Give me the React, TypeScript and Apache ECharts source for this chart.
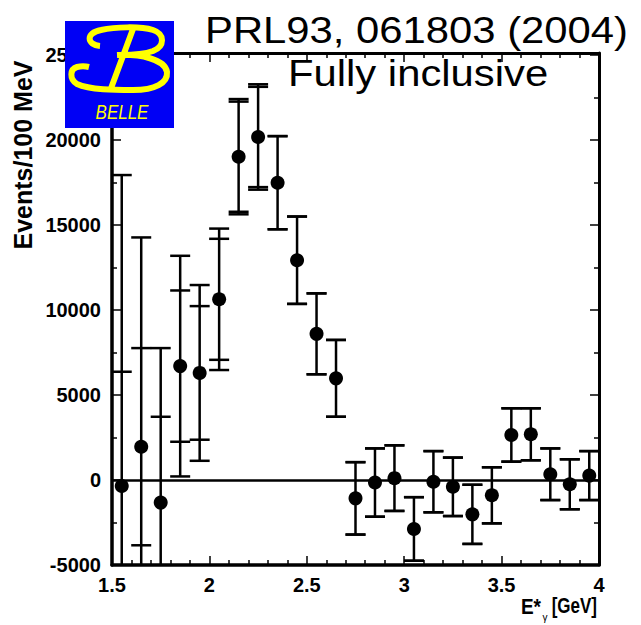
import React, { useEffect, useRef } from "react";
import * as echarts from "echarts";

// ---- data ----
const energies = [1.55, 1.65, 1.75, 1.85, 1.95, 2.05, 2.15, 2.25, 2.35, 2.45, 2.55, 2.65, 2.75, 2.85, 2.95, 3.05, 3.15, 3.25, 3.35, 3.45, 3.55, 3.65, 3.75, 3.85, 3.95];
const events = [-350, 1960, -1330, 6700, 6300, 10630, 19020, 20180, 17490, 12930, 8600, 5980, -1080, -150, 110, -2880, -100, -400, -2020, -900, 2650, 2690, 340, -250, 260];
const statErrors = [6720, 5800, 5050, 4450, 3930, 3560, 3240, 2950, 2740, 2570, 2380, 2260, 2130, 2010, 1930, 1870, 1800, 1720, 1740, 1650, 1570, 1530, 1520, 1470, 1440];
const totalErrors = [18290, 12310, 9090, 6490, 5170, 4160, 3390, 3100, 2740, 2570, 2380, 2260, 2130, 2010, 1930, 1870, 1800, 1720, 1740, 1650, 1570, 1530, 1520, 1470, 1440];

const xMin = 1.5;
const xMax = 4;
const xStep = 0.5;
const yMin = -5000;
const yMax = 25120;
const yStep = 5000;

const titleText = "PRL93, 061803 (2004)";
const subtitleText = "Fully inclusive";
const yName = "Events/100 MeV";
const logoText = "BELLE";

const FONT = "'Liberation Sans', Arial, Helvetica, sans-serif";

const bPath =
  "M 35 25 C 22 24 20 12 36 9 C 50 6 75 5 88 9 C 100 13 100 25 88 30 C 80 33 70 34 56 34 " +
  "M 68 8 L 45 70 " +
  "M 52 34 C 75 33 100 38 102 51 C 103 62 90 69 68 69 C 50 69 25 69 12 63 C 4 58 5 48 12 46 C 16 45 20 45 24 46";

let registered = false;
function ensureShape() {
  if (registered) return;
  echarts.graphic.registerShape("belleB", echarts.graphic.extendPath(bPath, {}) as any);
  registered = true;
}

export default function App() {
  const ref = useRef<HTMLDivElement>(null);

  useEffect(() => {
    if (!ref.current) return;
    ensureShape();
    const chart = echarts.init(ref.current, null, { renderer: "svg" });

    const errData = energies.map((e, i) => [e, events[i], statErrors[i], totalErrors[i]]);
    const dotData = energies.map((e, i) => [e, events[i]]);

    const axisBase = (extra: any) => ({
      type: "value",
      axisLine: { show: true, onZero: false, lineStyle: { color: "#000", width: 3.5 } },
      axisTick: { show: true, inside: true, length: 9, lineStyle: { color: "#000", width: 1.5 } },
      minorTick: { show: true, length: 5, lineStyle: { color: "#000", width: 1.5 } },
      splitLine: { show: false },
      minorSplitLine: { show: false },
      ...extra,
    });

    const option: any = {
      animation: false,
      backgroundColor: "#fff",
      grid: { left: 112, right: 42, top: 53, bottom: 60, containLabel: false, outerBoundsMode: "none" },
      xAxis: [
        axisBase({
          min: xMin,
          max: xMax,
          interval: xStep,
          minorTick: { show: true, splitNumber: 5, length: 5, lineStyle: { color: "#000", width: 1.5 } },
          axisLabel: {
            show: true,
            margin: 10,
            color: "#000",
            fontSize: 20,
            fontWeight: "bold",
            fontFamily: FONT,
          },
        }),
        axisBase({
          position: "top",
          min: xMin,
          max: xMax,
          interval: xStep,
          axisLine: { show: true, onZero: false, lineStyle: { color: "#000", width: 3 } },
          minorTick: { show: true, splitNumber: 5, length: 5, lineStyle: { color: "#000", width: 1.5 } },
          axisLabel: { show: false },
        }),
      ],
      yAxis: [
        axisBase({
          min: yMin,
          max: yMax,
          interval: yStep,
          minorTick: { show: true, splitNumber: 2, length: 5, lineStyle: { color: "#000", width: 1.5 } },
          axisLabel: {
            show: true,
            margin: 11,
            color: "#000",
            fontSize: 20,
            fontWeight: "bold",
            fontFamily: FONT,
            formatter: (v: number) => (v % yStep === 0 ? String(v) : ""),
          },
        }),
        axisBase({
          position: "right",
          min: yMin,
          max: yMax,
          interval: yStep,
          axisLine: { show: true, onZero: false, lineStyle: { color: "#000", width: 3 } },
          minorTick: { show: true, splitNumber: 2, length: 5, lineStyle: { color: "#000", width: 1.5 } },
          axisLabel: { show: false },
        }),
      ],
      series: [
        {
          type: "custom",
          clip: true,
          xAxisIndex: 0,
          yAxisIndex: 0,
          encode: { x: 0, y: 1 },
          data: errData,
          z: 3,
          renderItem: (params: any, api: any) => {
            const x = api.value(0);
            const y = api.value(1);
            const s = api.value(2);
            const t = api.value(3);
            const top = api.coord([x, y + t]);
            const bot = api.coord([x, y - t]);
            const sTop = api.coord([x, y + s]);
            const sBot = api.coord([x, y - s]);
            const hw = 10;
            const st = { stroke: "#000", lineWidth: 2.5 };
            const cap = (p: number[]) => ({
              type: "line",
              shape: { x1: p[0] - hw, y1: p[1], x2: p[0] + hw, y2: p[1] },
              style: st,
            });
            return {
              type: "group",
              children: [
                { type: "line", shape: { x1: top[0], y1: top[1], x2: bot[0], y2: bot[1] }, style: st },
                cap(top),
                cap(bot),
                cap(sTop),
                cap(sBot),
              ],
            };
          },
        },
        {
          type: "scatter",
          xAxisIndex: 0,
          yAxisIndex: 0,
          data: dotData,
          symbol: "circle",
          symbolSize: 14,
          itemStyle: { color: "#000", opacity: 1 },
          z: 4,
          markLine: {
            silent: true,
            symbol: ["none", "none"],
            label: { show: false },
            lineStyle: { color: "#000", width: 2.5, type: "solid", opacity: 1 },
            data: [{ yAxis: 0 }],
          },
        },
      ],
      graphic: [
        {
          type: "rect",
          z: 100,
          shape: { x: 65, y: 21, width: 109, height: 107 },
          style: { fill: "#0000f5" },
        },
        {
          type: "belleB",
          z: 101,
          x: 65,
          y: 21,
          style: { stroke: "#ffff00", fill: "none", lineWidth: 6 },
        },
        {
          type: "text",
          z: 101,
          x: 122,
          y: 112,
          scaleY: 1.2,
          style: {
            text: logoText,
            fill: "#ffff00",
            fontSize: 17,
            fontStyle: "italic",
            fontFamily: FONT,
            align: "center",
            verticalAlign: "middle",
          },
        },
        {
          type: "text",
          z: 100,
          x: 205,
          y: 30,
          scaleX: 1.13,
          style: {
            text: titleText,
            fill: "#000",
            fontSize: 37,
            fontFamily: FONT,
            align: "left",
            verticalAlign: "middle",
          },
        },
        {
          type: "text",
          z: 100,
          x: 288,
          y: 73,
          scaleX: 1.13,
          style: {
            text: subtitleText,
            fill: "#000",
            fontSize: 37,
            fontFamily: FONT,
            align: "left",
            verticalAlign: "middle",
          },
        },
        {
          type: "text",
          z: 100,
          x: 23,
          y: 155,
          rotation: Math.PI / 2,
          style: {
            text: yName,
            fill: "#000",
            fontSize: 25,
            fontWeight: "bold",
            fontFamily: FONT,
            align: "center",
            verticalAlign: "middle",
          },
        },
        {
          type: "text",
          z: 100,
          x: 541,
          y: 606,
          scaleY: 1.2,
          style: {
            text: "E*",
            fill: "#000",
            fontSize: 19,
            fontWeight: "bold",
            fontFamily: FONT,
            align: "right",
            verticalAlign: "middle",
          },
        },
        {
          type: "text",
          z: 100,
          x: 545,
          y: 617,
          style: {
            text: "γ",
            fill: "#000",
            fontSize: 10,
            fontFamily: FONT,
            align: "center",
            verticalAlign: "middle",
          },
        },
        {
          type: "text",
          z: 100,
          x: 597,
          y: 606,
          scaleY: 1.25,
          style: {
            text: "[GeV]",
            fill: "#000",
            fontSize: 17,
            fontWeight: "bold",
            fontFamily: FONT,
            align: "right",
            verticalAlign: "middle",
          },
        },
      ],
    };

    chart.setOption(option);
    return () => {
      chart.dispose();
    };
  }, []);

  return (
    <div
      ref={ref}
      style={{ position: "fixed", left: 0, top: 0, width: 641, height: 625, background: "#fff" }}
    />
  );
}
